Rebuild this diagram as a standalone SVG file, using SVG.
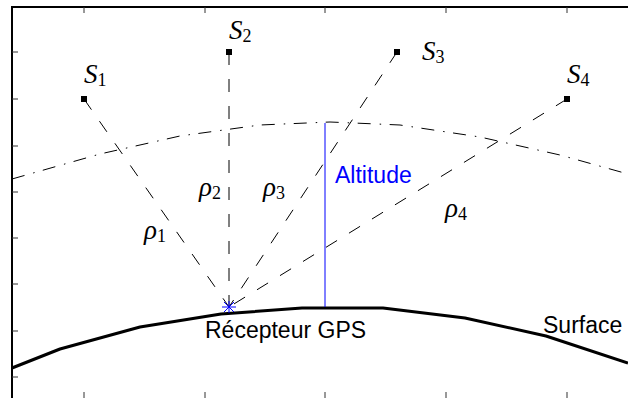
<svg xmlns="http://www.w3.org/2000/svg" width="628" height="398" viewBox="0 0 628 398">
<style>
.frame{stroke:#000;stroke-width:2;fill:none}
.tick{stroke:#333;stroke-width:1;fill:none}
.ray{stroke:#000;stroke-width:1;fill:none;stroke-dasharray:13 14}
.atm{stroke:#000;stroke-width:1;fill:none;stroke-dasharray:13 9 1.5 8.5}
.surf{stroke:#000;stroke-width:3;fill:none;stroke-linejoin:round}
.m{font-family:"Liberation Serif","DejaVu Serif",serif;font-style:italic;font-size:27px;fill:#000}
.sub{font-style:normal;font-size:18px}
.t{font-family:"Liberation Sans",Arial,sans-serif;font-size:23px;fill:#000}
.sat{fill:#000}
</style>
<rect width="628" height="398" fill="#fff"/>
<g id="axes">
<path class="frame" d="M12,398 V7 H628"/>
<path class="tick" d="M84,7v6M205,7v6M325,7v6M446,7v6M567,7v6M84,398v-6M205,398v-6M325,398v-6M446,398v-6M567,398v-6M12,52h6M12,99h6M12,146h6M12,192h6M12,238h6M12,284h6M12,331h6M12,377h6"/>
</g>
<g id="atmosphere">
<polyline class="atm" points="12,179 100,154 180,136 260,125 330,122 400,125 480,137 560,155 628,174"/>
</g>
<g id="surface">
<polyline class="surf" points="12,368 60,349 140,327 221,314 302,308 383,308 465,318 546,336 628,363"/>
<text class="t" x="543" y="333">Surface</text>
</g>
<g id="connectors">
<line class="ray" x1="84" y1="99" x2="229" y2="307"/>
<line class="ray" x1="229" y1="52" x2="229" y2="307"/>
<line class="ray" x1="397" y1="52" x2="229" y2="307"/>
<line class="ray" x1="567" y1="99" x2="229" y2="307"/>
<line x1="325" y1="123" x2="325" y2="307" stroke="#0000ff" stroke-width="1"/>
</g>
<g id="S1"><rect class="sat" x="81" y="96" width="6" height="6"/><text class="m" x="84" y="83">S<tspan class="sub" dy="3">1</tspan></text></g>
<g id="S2"><rect class="sat" x="226" y="49" width="6" height="6"/><text class="m" x="229" y="39">S<tspan class="sub" dy="3">2</tspan></text></g>
<g id="S3"><rect class="sat" x="394" y="49" width="6" height="6"/><text class="m" x="422" y="60">S<tspan class="sub" dy="3">3</tspan></text></g>
<g id="S4"><rect class="sat" x="564" y="96" width="6" height="6"/><text class="m" x="567" y="83">S<tspan class="sub" dy="3">4</tspan></text></g>
<g id="labels">
<text class="m" x="144" y="239">ρ<tspan class="sub" dy="3">1</tspan></text>
<text class="m" x="199" y="196">ρ<tspan class="sub" dy="3">2</tspan></text>
<text class="m" x="263" y="196">ρ<tspan class="sub" dy="3">3</tspan></text>
<text class="m" x="445" y="217">ρ<tspan class="sub" dy="3">4</tspan></text>
<text class="t" x="335" y="183" style="fill:#0000ff">Altitude</text>
</g>
<g id="receiver">
<path d="M222,307h14M229,301v12M224,302l10,10M234,302l-10,10" stroke="#0000ff" stroke-width="1"/>
<text class="t" x="205" y="338">Récepteur GPS</text>
</g>
</svg>
